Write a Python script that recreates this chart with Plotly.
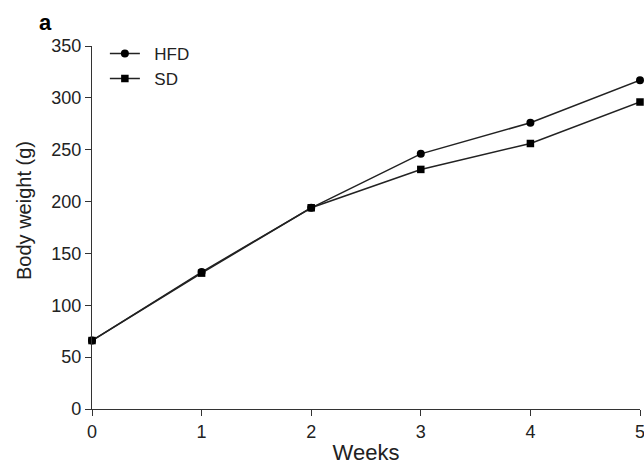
import plotly.graph_objects as go

weeks = [0, 1, 2, 3, 4, 5]
hfd = [66, 132, 194, 246, 276, 317]
sd = [66, 131, 194, 231, 256, 296]
x_ticks = [0, 1, 2, 3, 4, 5]
y_ticks = [0, 50, 100, 150, 200, 250, 300, 350]
series_names = ["HFD", "SD"]

FONT = "Liberation Sans, Arial, sans-serif"
LINE = "#222222"
NB = "\u00a0"

fig = go.Figure()
fig.add_trace(go.Scatter(x=weeks, y=hfd, name=NB * 2 + series_names[0], mode="lines+markers",
                         line=dict(color=LINE, width=1.5),
                         marker=dict(symbol="circle", size=8, color="black"),
                         cliponaxis=False))
fig.add_trace(go.Scatter(x=weeks, y=sd, name=NB * 2 + series_names[1], mode="lines+markers",
                         line=dict(color=LINE, width=1.5),
                         marker=dict(symbol="square", size=7.5, color="black"),
                         cliponaxis=False))

fig.update_layout(
    width=644, height=465,
    margin=dict(l=92, r=4, t=46, b=56, autoexpand=False),
    paper_bgcolor="white", plot_bgcolor="white",
    font=dict(family=FONT, size=18, color="#222222"),
    showlegend=True,
    legend=dict(x=0.0235, y=1.028, xanchor="left", yanchor="top",
                bgcolor="rgba(0,0,0,0)", font=dict(size=17, color="#222222"),
                tracegroupgap=0, itemwidth=30),
    xaxis=dict(range=[0, 5], tickvals=x_ticks, showgrid=False, zeroline=False,
               showline=True, linecolor="#333333", linewidth=1.4,
               ticks="outside", ticklen=6, tickcolor="#333333", tickwidth=1.4,
               tickfont=dict(size=18), ticklabeloverflow="allow", automargin=False,
               title=dict(text="Weeks", font=dict(size=22), standoff=4)),
    yaxis=dict(range=[0, 350], tickvals=y_ticks, showgrid=False, zeroline=False,
               showline=True, linecolor="#333333", linewidth=1.4,
               ticks="outside", ticklen=6, tickcolor="#333333", tickwidth=1.4,
               tickfont=dict(size=18), automargin=False),
    annotations=[
        dict(text="<b>a</b>", xref="paper", yref="paper",
             x=(37 - 92) / 548, y=1 + (46 - 22) / 363,
             xanchor="left", yanchor="middle", showarrow=False,
             font=dict(size=22, color="black")),
        dict(text="Body weight (g)", xref="paper", yref="paper",
             x=(24 - 92) / 548, y=(409 - 211) / 363, textangle=-90,
             xanchor="center", yanchor="middle", showarrow=False,
             font=dict(size=20, color="#222222")),
    ],
)
fig.write_html("out.html", config={"displayModeBar": False},
               post_script="document.body.style.margin='0px';")
